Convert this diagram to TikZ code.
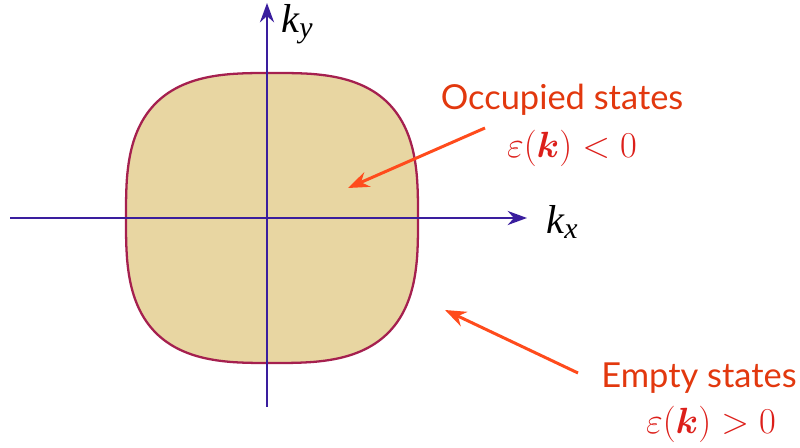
\documentclass[tikz,border=0pt]{standalone}
\usepackage{amsmath,amssymb,bm}
\usepackage{fontspec}
\setsansfont{Lato}
\newfontfamily\tms{Liberation Serif}
\usetikzlibrary{arrows.meta,positioning}
\definecolor{axc}{HTML}{3A1E9E}
\definecolor{fsc}{HTML}{E8D6A2}
\definecolor{fse}{HTML}{A5204F}
\definecolor{lab}{HTML}{E2380E}
\definecolor{mth}{HTML}{DC1F1A}
\definecolor{arr}{HTML}{FF4B1C}
\newcommand{\ek}{\varepsilon(\bm{k})}
\newcommand{\kk}[1]{{\tms\itshape k\raisebox{-0.12em}{\fontsize{17}{17}\selectfont #1}}}

\begin{document}
\begin{tikzpicture}[x=0.02cm,y=-0.02cm]
 \useasboundingbox (0,0) rectangle (800,448);
 % Fermi sea
 \fill[fsc,draw=fse,line width=1.3pt] plot[domain=0.5:360.5,samples=181,smooth]
   ({272+146*sign(cos(\x))*abs(cos(\x))^(2/3)},{218-145*sign(sin(\x))*abs(sin(\x))^(2/3)}) -- cycle;
 % axes
 \node (kx) at (562,222) {\fontsize{23}{24}\selectfont\kk{x}};
 \node (ky) at (297,24) {\fontsize{23}{24}\selectfont\kk{y}};
 \draw[axc,line width=1.4pt,-{Stealth[length=11pt,width=8pt]}] (10,218)--(527,218);
 \draw[axc,line width=1.4pt,-{Stealth[length=11pt,width=8pt]}] (267,407)--(267,3);
 % labels
 \node[lab] (occ) at (562,100) {\fontsize{19.6}{22}\selectfont\sffamily Occupied states};
 \node[mth] (occe) at (572,148) {\fontsize{21.5}{24}\selectfont $\ek<0$};
 \node[lab] (emp) at (699,378) {\fontsize{19.6}{22}\selectfont\sffamily Empty states};
 \node[mth] (empe) at (711,424) {\fontsize{21.5}{24}\selectfont $\ek>0$};
 \coordinate (occs) at (485,128);
 \coordinate (occt) at (348,188);
 \coordinate (emps) at (578,373);
 \coordinate (empt) at (445,310);
 \draw[arr,line width=1.7pt,-{Stealth[length=12pt,width=9pt]}] (occs)--(occt);
 \draw[arr,line width=1.7pt,-{Stealth[length=12pt,width=9pt]}] (emps)--(empt);
\end{tikzpicture}
\end{document}
